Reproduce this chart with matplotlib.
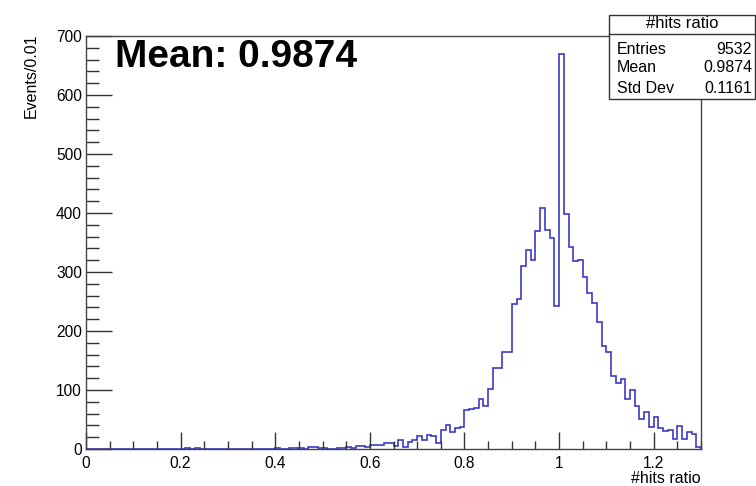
import numpy as np
import matplotlib
matplotlib.use('Agg')
import matplotlib.pyplot as plt
from matplotlib.patches import Rectangle
from matplotlib.ticker import MultipleLocator

plt.rcParams['font.family'] = ['Liberation Sans', 'DejaVu Sans']

# bin contents, 130 bins of width 0.01 from 0 to 1.3
counts = np.zeros(130)
counts[21] = 1
counts[23] = 1
counts[40] = 1
counts[43:46] = [1, 1, 1]
counts[47:51] = [3, 3, 2, 2]
counts[53:60] = [2, 2, 4, 2, 5, 5, 3]
counts[60:80] = [6, 7, 6, 11, 11, 5, 15, 4, 12, 15,
                 22, 16, 23, 22, 11, 32, 40, 29, 35, 37]
counts[80:90] = [66, 68, 69, 85, 73, 101, 137, 138, 164, 164]
counts[90:100] = [245, 255, 310, 337, 320, 369, 408, 371, 357, 243]
counts[100:110] = [670, 398, 343, 319, 320, 292, 265, 247, 215, 174]
counts[110:120] = [165, 123, 112, 118, 84, 100, 73, 51, 63, 37]
counts[120:130] = [55, 35, 31, 32, 17, 39, 17, 28, 25, 4]
edges = np.linspace(0, 1.3, 131)

statsTitle = '#hits ratio'
statsNames = ['Entries', 'Mean', 'Std Dev']
statsValues = ['9532', '0.9874', '0.1161']

W, H = 756, 486
fig = plt.figure(figsize=(W / 100, H / 100), dpi=100)
ax = fig.add_axes([86 / W, 1 - 449 / H, (701 - 86) / W, (449 - 36) / H])

ax.stairs(counts, edges, color='#3b3bc6', linewidth=1.2, baseline=0)

ax.set_xlim(0, 1.3)
ax.set_ylim(0, 700)
ax.xaxis.set_major_locator(MultipleLocator(0.2))
ax.xaxis.set_minor_locator(MultipleLocator(0.05))
ax.yaxis.set_major_locator(MultipleLocator(100))
ax.yaxis.set_minor_locator(MultipleLocator(20))
ax.set_xticks([0, 0.2, 0.4, 0.6, 0.8, 1.0, 1.2])
ax.set_xticklabels(['0', '0.2', '0.4', '0.6', '0.8', '1', '1.2'])

ax.tick_params(axis='x', which='major', direction='in', length=12, width=1,
               color='#333333', labelsize=11.2, pad=5)
ax.tick_params(axis='x', which='minor', direction='in', length=6, width=1,
               color='#333333')
ax.tick_params(axis='y', which='major', direction='in', length=19, width=1,
               color='#333333', labelsize=11.2, pad=3)
ax.tick_params(axis='y', which='minor', direction='in', length=9, width=1,
               color='#333333')
for s in ax.spines.values():
    s.set_color('#444444')
    s.set_linewidth(1)

# axis titles (ROOT style)
fig.text(701 / W, 1 - 478 / H, '#hits ratio', ha='right', va='center',
         fontsize=11.5)
fig.text(31 / W, 1 - 33 / H, 'Events/0.01', rotation=90, ha='center',
         va='top', fontsize=11.5)

# big annotation
fig.text(115 / W, 1 - 67 / H, 'Mean: 0.9874', fontsize=28, fontweight='bold',
         ha='left', va='baseline')

# stats box
x0, x1, y0, y1 = 609, 755, 15, 99
fig.patches.append(Rectangle((x0 / W, 1 - y1 / H), (x1 - x0) / W, (y1 - y0) / H,
                             transform=fig.transFigure, facecolor='white',
                             edgecolor='#333333', linewidth=1, zorder=5))
fig.lines.append(plt.Line2D([x0 / W, x1 / W], [1 - 34 / H, 1 - 34 / H],
                            transform=fig.transFigure, color='#333333',
                            linewidth=1, zorder=6))
fig.text((x0 + x1) / 2 / W, 1 - 24 / H, statsTitle, ha='center', va='center',
         fontsize=12, zorder=7)
rowY = [49, 68, 88]
for name, val, yy in zip(statsNames, statsValues, rowY):
    fig.text(617 / W, 1 - yy / H, name, ha='left', va='center',
             fontsize=11.5, zorder=7)
    fig.text(752 / W, 1 - yy / H, val, ha='right', va='center',
             fontsize=11.5, zorder=7)

plt.savefig('out.png', dpi=100)
